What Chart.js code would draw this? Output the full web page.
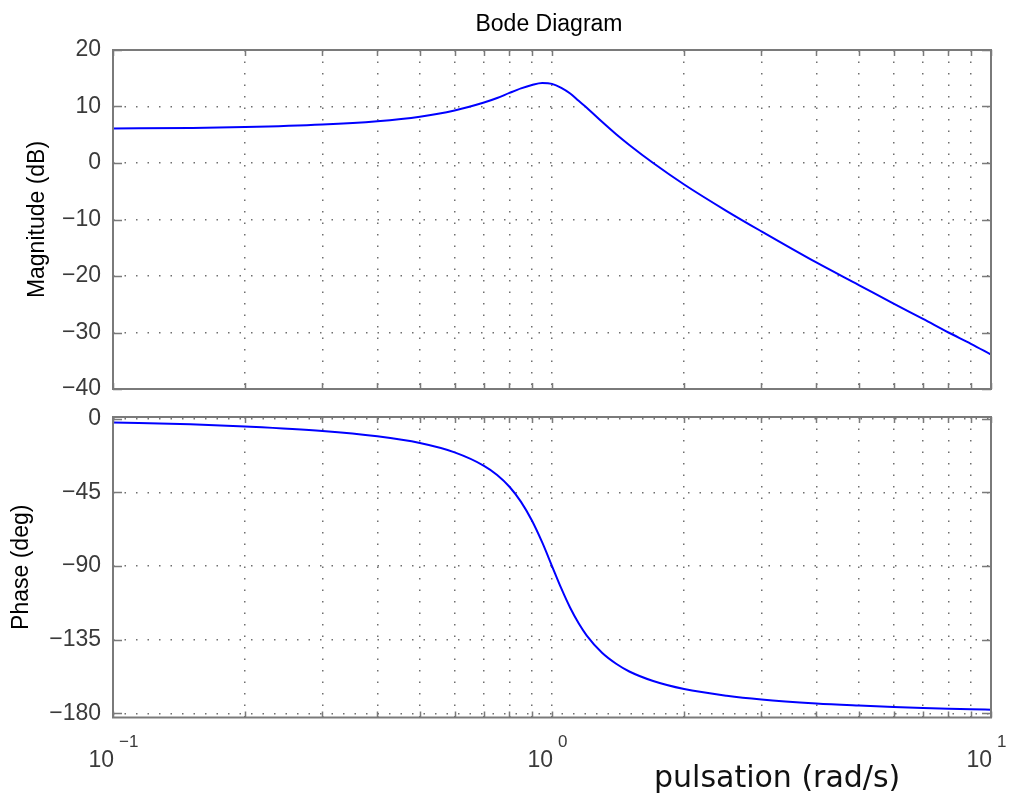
<!DOCTYPE html>
<html>
<head>
<meta charset="utf-8">
<title>Bode Diagram</title>
<script src="https://cdn.jsdelivr.net/npm/chart.js@4.4.1/dist/chart.umd.min.js"></script>
<style>
  body { margin: 0; background: #fff; }
  #wrap { position: relative; width: 1010px; height: 794px; }
  #wrap canvas { position: absolute; left: 0; top: 0; }
</style>
</head>
<body>
<div id="wrap">
  <canvas id="mag" width="1010" height="794"></canvas>
  <canvas id="phase" width="1010" height="794"></canvas>
</div>
<script>
// frequency response samples (rad/s, dB, deg)
const freq      = [0.1, 0.15, 0.2, 0.3, 0.4, 0.5, 0.6, 0.7, 0.75, 0.8, 0.85, 0.9, 0.95, 1, 1.05, 1.1, 1.15, 1.2, 1.3, 1.4, 1.5, 1.7, 2, 2.5, 3, 4, 5, 6, 7, 8, 9, 10];
const magnitude = [6.1, 6.2, 6.35, 6.8, 7.4, 8.2, 9.3, 10.7, 11.5, 12.4, 13.2, 13.8, 14.15, 14.0, 13.3, 12.3, 11.0, 9.8, 7.3, 5.1, 3.2, 0.0, -3.8, -8.5, -12.1, -17.6, -21.6, -24.9, -27.6, -30.0, -32.0, -33.9];
const phase     = [-2.3, -3.5, -4.8, -7.5, -10.8, -14.9, -20.6, -28.8, -34.4, -41.6, -50.8, -62.2, -75.6, -90, -103.7, -115.5, -125.0, -132.5, -143.0, -149.7, -154.4, -160.2, -165.1, -169.2, -171.5, -173.9, -175.2, -176.1, -176.7, -177.1, -177.4, -177.7];

// axis ticks
const freqTicks = [0.1, 0.2, 0.3, 0.4, 0.5, 0.6, 0.7, 0.8, 0.9, 1, 2, 3, 4, 5, 6, 7, 8, 9, 10];
const decadeTicks = [0.1, 1, 10];
const decadeExponents = ['\u22121', '0', '1'];
const magTicks = [-40, -30, -20, -10, 0, 10, 20];
const phaseTicks = [-180, -135, -90, -45, 0];

const FONT = '"Liberation Sans", Arial, Helvetica, sans-serif';
const GRID = '#6e6e6e';
const FRAME = '#7a7a7a';

function minusLabel(v) {
    return v < 0 ? '\u2212' + Math.abs(v) : String(v);
}

function bodeScales(yMin, yMax, yTicks) {
    return {
        x: {
            type: 'logarithmic',
            min: 0.1,
            max: 10,
            afterBuildTicks: s => { s.ticks = freqTicks.map(v => ({value: v})); },
            afterFit: s => { s.height = 0; },
            ticks: { display: false },
            grid: { color: GRID, lineWidth: 1.5, drawTicks: false },
            border: { display: false, dash: [1.5, 10] }
        },
        y: {
            type: 'linear',
            min: yMin,
            max: yMax,
            afterBuildTicks: s => { s.ticks = yTicks.map(v => ({value: v})); },
            afterFit: s => { s.width = 113; },
            ticks: {
                padding: 12,
                color: '#3a3a3a',
                font: { family: FONT, size: 23 },
                callback: minusLabel
            },
            grid: { color: GRID, lineWidth: 1.5, drawTicks: false },
            border: { display: false, dash: [1.5, 10] }
        }
    };
}

// box around the axes with inward tick marks, like a matlab axes
const framePlugin = {
    id: 'frame',
    afterDatasetsDraw(chart) {
        const {ctx, chartArea: a, scales} = chart;
        ctx.save();
        ctx.strokeStyle = FRAME;
        ctx.lineWidth = 1.5;
        ctx.beginPath();
        scales.x.ticks.forEach(t => {
            const px = Math.round(scales.x.getPixelForValue(t.value)) + 0.5;
            ctx.moveTo(px, a.bottom); ctx.lineTo(px, a.bottom - 6);
            ctx.moveTo(px, a.top); ctx.lineTo(px, a.top + 6);
        });
        scales.y.ticks.forEach(t => {
            const py = Math.round(scales.y.getPixelForValue(t.value)) + 0.5;
            ctx.moveTo(a.left, py); ctx.lineTo(a.left + 9, py);
            ctx.moveTo(a.right, py); ctx.lineTo(a.right - 9, py);
        });
        ctx.stroke();
        ctx.lineWidth = 2;
        ctx.strokeRect(a.left, a.top, a.right - a.left, a.bottom - a.top);
        ctx.restore();
    }
};

const textPlugin = {
    id: 'bodeText',
    afterDraw(chart, args, opts) {
        const {ctx, chartArea: a, scales} = chart;
        ctx.save();
        ctx.fillStyle = '#000';
        if (opts.title) {
            ctx.font = '23px ' + FONT;
            ctx.textAlign = 'center';
            ctx.fillText(opts.title, (a.left + a.right) / 2 - 3, 31);
        }
        if (opts.yTitle) {
            ctx.font = '23px ' + FONT;
            ctx.translate(opts.yTitleX, (a.top + a.bottom) / 2);
            ctx.rotate(-Math.PI / 2);
            ctx.textAlign = 'center';
            ctx.textBaseline = 'middle';
            ctx.fillText(opts.yTitle, 0, 0);
            ctx.setTransform(1, 0, 0, 1, 0, 0);
        }
        if (opts.decades) {
            ctx.fillStyle = '#3a3a3a';
            ctx.textBaseline = 'alphabetic';
            decadeTicks.forEach((v, i) => {
                const px = scales.x.getPixelForValue(v);
                ctx.font = '23px ' + FONT;
                ctx.textAlign = 'right';
                ctx.fillText('10', px + 1, 767);
                ctx.font = '17px ' + FONT;
                ctx.textAlign = 'left';
                ctx.fillText(decadeExponents[i], px + 6, 747);
            });
        }
        if (opts.xTitle) {
            ctx.fillStyle = '#111';
            ctx.font = '30px "DejaVu Sans", Verdana, sans-serif';
            ctx.textAlign = 'left';
            ctx.textBaseline = 'alphabetic';
            ctx.fillText(opts.xTitle, 654, 787);
        }
        ctx.restore();
    }
};

function lineData(values) {
    return freq.map((f, i) => ({x: f, y: values[i]}));
}

function bodeChart(id, values, yMin, yMax, yTicks, padding, text) {
    return new Chart(document.getElementById(id), {
        type: 'line',
        data: {
            datasets: [{
                data: lineData(values),
                borderColor: '#0000ff',
                borderWidth: 2,
                pointRadius: 0,
                fill: false,
                cubicInterpolationMode: 'monotone'
            }]
        },
        options: {
            responsive: false,
            animation: false,
            devicePixelRatio: 1,
            layout: { padding: padding },
            plugins: {
                legend: { display: false },
                tooltip: { enabled: false },
                bodeText: text
            },
            scales: bodeScales(yMin, yMax, yTicks)
        },
        plugins: [framePlugin, textPlugin]
    });
}

const magChart = bodeChart('mag', magnitude, -40, 20, magTicks,
    {top: 50, right: 19, bottom: 405, left: 0},
    {title: 'Bode Diagram', yTitle: 'Magnitude (dB)', yTitleX: 38});

const phaseChart = bodeChart('phase', phase, -182.5, 1, phaseTicks,
    {top: 417, right: 19, bottom: 76.5, left: 0},
    {yTitle: 'Phase (deg)', yTitleX: 22, decades: true, xTitle: 'pulsation (rad/s)'});
</script>
</body>
</html>
